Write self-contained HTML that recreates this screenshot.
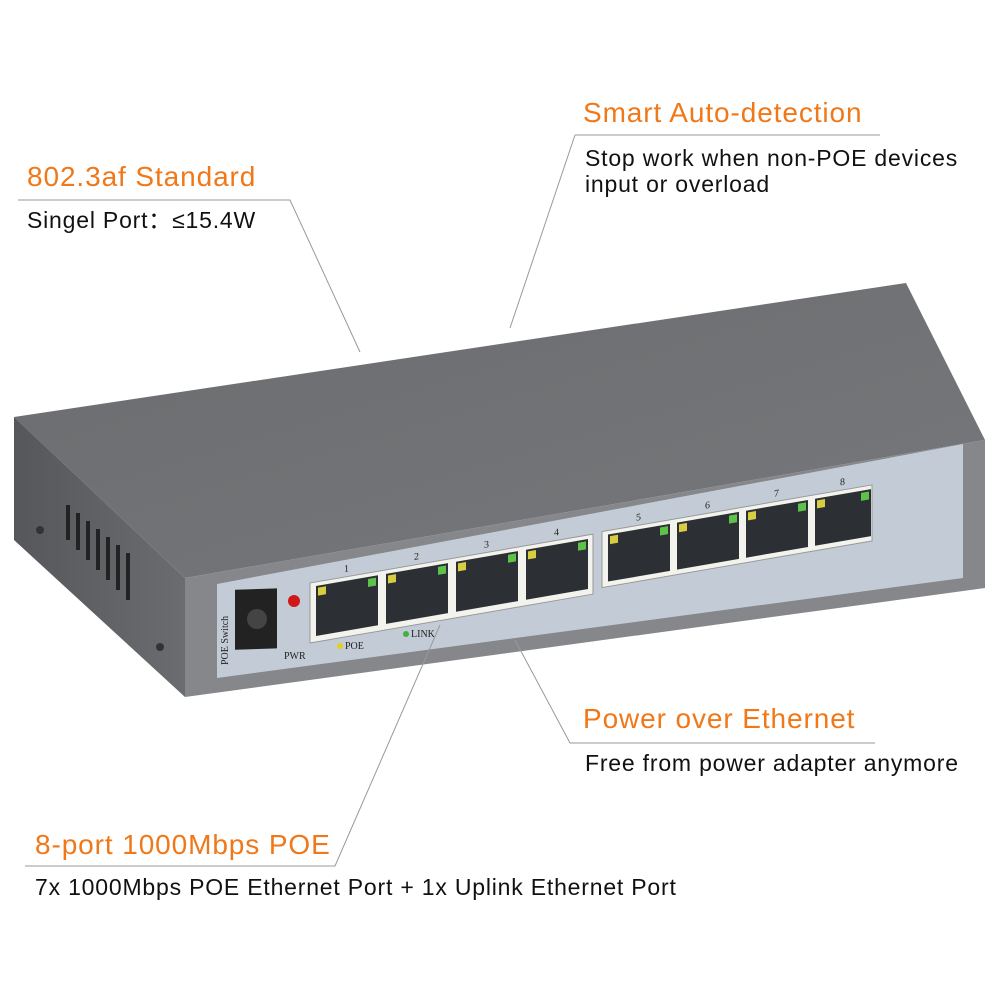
<!DOCTYPE html>
<html><head><meta charset="utf-8"><style>
body{margin:0;background:#fff;}
.w{position:relative;width:1000px;height:1000px;overflow:hidden;font-family:"Liberation Sans","DejaVu Sans",sans-serif;}
.h{position:absolute;color:#f07818;font-size:28px;letter-spacing:0.9px;white-space:nowrap;}
.t{position:absolute;color:#111;font-size:23px;letter-spacing:0.8px;white-space:nowrap;line-height:26px;}
svg{position:absolute;left:0;top:0;}
</style></head><body><div class="w">
<svg width="1000" height="1000" viewBox="0 0 1000 1000">
<defs>
<linearGradient id="top" x1="0" y1="0" x2="1" y2="1"><stop offset="0" stop-color="#6a6c6f"/><stop offset="1" stop-color="#76787b"/></linearGradient>
<linearGradient id="side" x1="0" y1="0" x2="1" y2="0"><stop offset="0" stop-color="#55575a"/><stop offset="1" stop-color="#6a6c6f"/></linearGradient>
</defs>
<polygon points="14,417 906,283 985,440 185,578" fill="url(#top)"/>
<polygon points="14,417 185,578 185,697 14,540" fill="url(#side)"/>
<polygon points="185,578 985,440 985,588 185,697" fill="#85878a"/>
<polygon points="217,584 963,444 963,578 217,678" fill="#c3ccd6"/>
<g stroke="#222" stroke-width="4">
<line x1="68" y1="505" x2="68" y2="540"/><line x1="78" y1="513" x2="78" y2="550"/><line x1="88" y1="521" x2="88" y2="560"/>
<line x1="98" y1="529" x2="98" y2="570"/><line x1="108" y1="537" x2="108" y2="580"/><line x1="118" y1="545" x2="118" y2="590"/>
<line x1="128" y1="553" x2="128" y2="600"/></g>
<circle cx="40" cy="530" r="4" fill="#333"/><circle cx="160" cy="647" r="4" fill="#333"/>
<rect x="235" y="598" width="42" height="60" fill="#222" transform="skewY(-2)"/>
<circle cx="257" cy="619" r="10" fill="#444"/>
<text x="240" y="598" font-size="10" font-family="Liberation Serif" fill="#222">Power</text>
<text x="228" y="665" font-size="10" font-family="Liberation Serif" fill="#222" transform="rotate(-90 228 665)">POE Switch</text>
<text x="284" y="659" font-size="10" font-family="Liberation Serif" fill="#222">PWR</text>
<circle cx="294" cy="601" r="6" fill="#d01818"/>
<g transform="translate(310,583) skewY(-9.8)">
<rect x="0" y="0" width="283" height="60" fill="#f3f3ee" stroke="#999"/>
<rect x="292" y="-1" width="270" height="56" fill="#f3f3ee" stroke="#999"/>
</g>
<g transform="translate(310,583) skewY(-9.8)" fill="#2c2f33">
<rect x="6" y="4" width="62" height="50"/><rect x="76" y="4" width="62" height="50"/><rect x="146" y="4" width="62" height="50"/><rect x="216" y="4" width="62" height="50"/>
<rect x="298" y="3" width="62" height="47"/><rect x="367" y="3" width="62" height="47"/><rect x="436" y="3" width="62" height="47"/><rect x="505" y="3" width="56" height="47"/>
</g>
<g transform="translate(310,583) skewY(-9.8)">
<g fill="#d8cc40"><rect x="8" y="6" width="8" height="8"/><rect x="78" y="6" width="8" height="8"/><rect x="148" y="6" width="8" height="8"/><rect x="218" y="6" width="8" height="8"/><rect x="300" y="5" width="8" height="8"/><rect x="369" y="5" width="8" height="8"/><rect x="438" y="5" width="8" height="8"/><rect x="507" y="5" width="8" height="8"/></g>
<g fill="#5ec24a"><rect x="58" y="6" width="8" height="8"/><rect x="128" y="6" width="8" height="8"/><rect x="198" y="6" width="8" height="8"/><rect x="268" y="6" width="8" height="8"/><rect x="350" y="5" width="8" height="8"/><rect x="419" y="5" width="8" height="8"/><rect x="488" y="5" width="8" height="8"/><rect x="551" y="5" width="8" height="8"/></g>
<g fill="#222" font-size="10" font-family="Liberation Serif"><text x="34" y="-5">1</text><text x="104" y="-5">2</text><text x="174" y="-5">3</text><text x="244" y="-5">4</text><text x="326" y="-6">5</text><text x="395" y="-6">6</text><text x="464" y="-6">7</text><text x="530" y="-6">8</text></g>
</g>
<circle cx="340" cy="646" r="3" fill="#e0d020"/><text x="345" y="649" font-size="10" font-family="Liberation Serif" fill="#222">POE</text>
<circle cx="406" cy="634" r="3" fill="#40b040"/><text x="411" y="637" font-size="10" font-family="Liberation Serif" fill="#222">LINK</text>
<g stroke="#999" stroke-width="1" fill="none">
<polyline points="575,135 880,135"/><line x1="575" y1="135" x2="510" y2="328"/>
<polyline points="18,200 290,200 360,352"/>
<polyline points="875,743 570,743 515,640"/>
<polyline points="25,866 335,866 440,625"/>
</g>
</svg>
<div class="h" style="left:583px;top:97px;">Smart Auto-detection</div>
<div class="t" style="left:585px;top:145px;">Stop work when non-POE devices<br>input or overload</div>
<div class="h" style="left:27px;top:161px;">802.3af Standard</div>
<div class="t" style="left:27px;top:207px;">Singel Port：≤15.4W</div>
<div class="h" style="left:583px;top:703px;">Power over Ethernet</div>
<div class="t" style="left:585px;top:750px;">Free from power adapter anymore</div>
<div class="h" style="left:35px;top:829px;">8-port 1000Mbps POE</div>
<div class="t" style="left:35px;top:874px;">7x 1000Mbps POE Ethernet Port + 1x Uplink Ethernet Port</div>
</div></body></html>
